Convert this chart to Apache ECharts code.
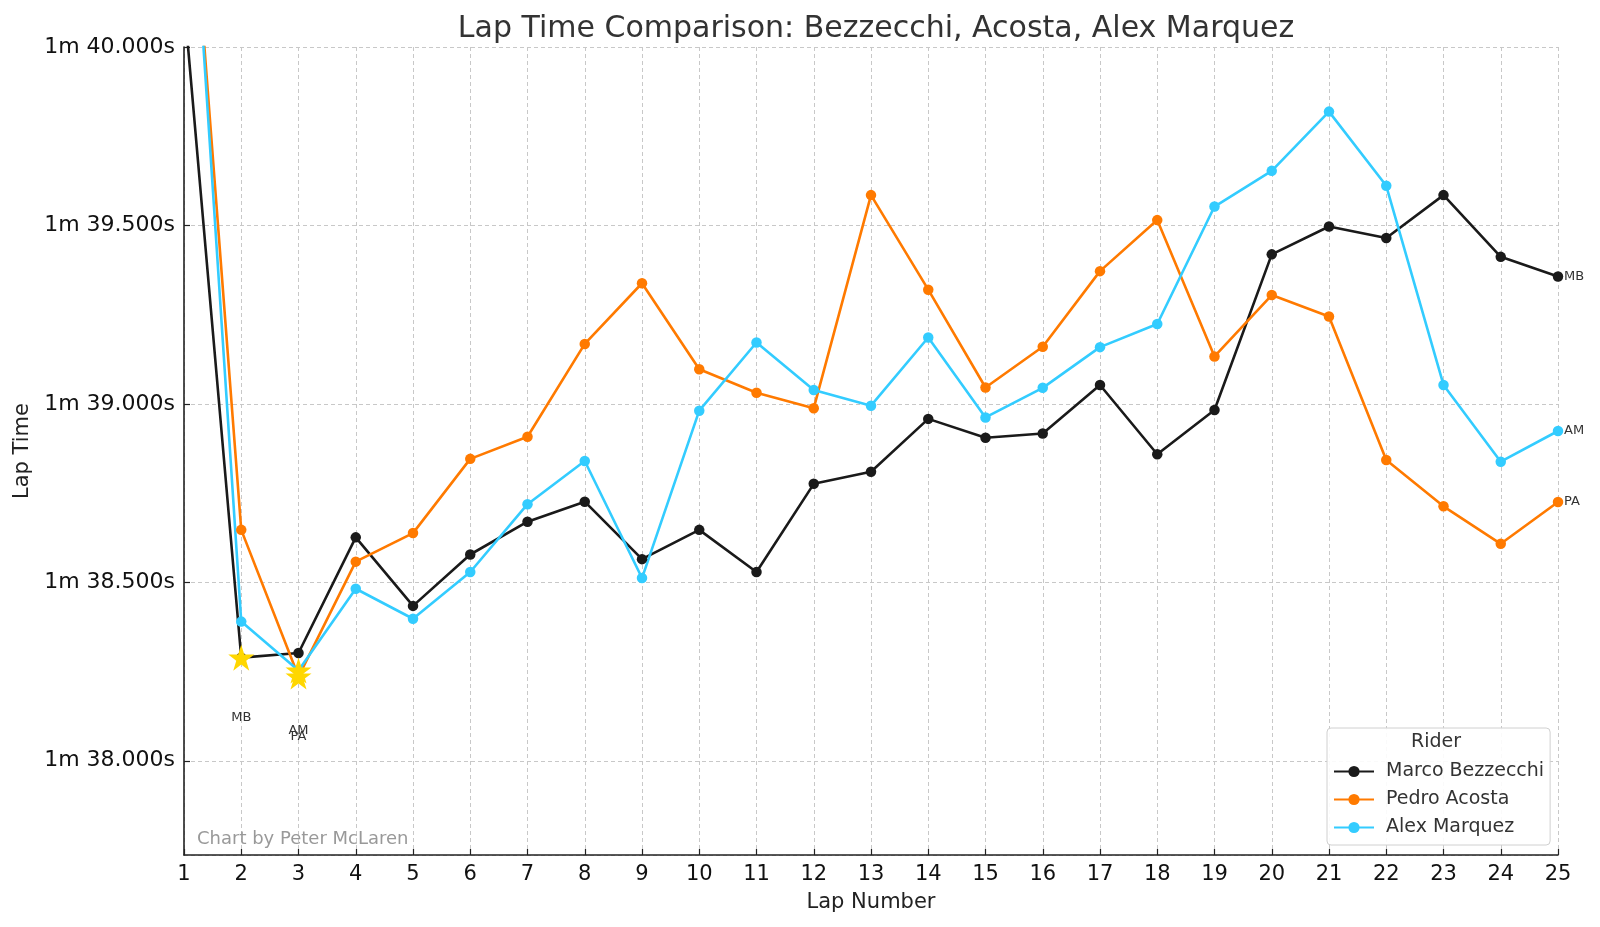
<!DOCTYPE html>
<html>
<head>
<meta charset="utf-8">
<script src="https://cdn.jsdelivr.net/npm/echarts@6/dist/echarts.min.js"></script>
<style>
html,body{margin:0;padding:0;background:#fff;}
#chart{width:1600px;height:927px;}
</style>
</head>
<body>
<div id="chart"></div>
<script>
// ---- data (lap times in seconds) ----
const laps = [1,2,3,4,5,6,7,8,9,10,11,12,13,14,15,16,17,18,19,20,21,22,23,24,25];
const bezzecchi = [100.13, 98.289, 98.302, 98.626, 98.434, 98.578, 98.670, 98.726, 98.565, 98.647, 98.529, 98.776, 98.810, 98.958, 98.905, 98.917, 99.053, 98.859, 98.983, 99.419, 99.497, 99.465, 99.585, 99.412, 99.357];
const acosta    = [100.75, 98.647, 98.236, 98.558, 98.638, 98.846, 98.908, 99.168, 99.338, 99.097, 99.031, 98.988, 99.585, 99.320, 99.046, 99.160, 99.372, 99.515, 99.133, 99.305, 99.245, 98.843, 98.713, 98.608, 98.725];
const marquez   = [100.83, 98.390, 98.253, 98.482, 98.398, 98.529, 98.719, 98.840, 98.512, 98.981, 99.172, 99.039, 98.995, 99.186, 98.962, 99.045, 99.159, 99.224, 99.553, 99.653, 99.819, 99.611, 99.053, 98.838, 98.924];
const riders = ['Marco Bezzecchi', 'Pedro Acosta', 'Alex Marquez'];
const initials = ['MB', 'PA', 'AM'];
const colors = ['#1a1a1a', '#ff7a00', '#33ccff'];
const yMin = 97.736;
const yMax = 100.0;

const seriesData = [bezzecchi, acosta, marquez];

function fmt(v){
  const m = Math.floor(v/60);
  const s = v - m*60;
  return m + 'm ' + s.toFixed(3) + 's';
}

const series = [];
seriesData.forEach((arr, i) => {
  series.push({
    name: riders[i],
    type: 'line',
    data: laps.map((l, k) => [l, arr[k]]),
    symbol: 'circle',
    symbolSize: 10.5,
    showAllSymbol: true,
    lineStyle: {color: colors[i], width: 2.6},
    itemStyle: {color: colors[i]},
    clip: true,
    z: 3,
    endLabel: {
      show: true,
      formatter: initials[i],
      color: '#333',
      fontSize: 13,
      fontFamily: 'DejaVu Sans',
      distance: 6
    }
  });
});

// fastest lap stars
const starPath = 'path://M50,0 L61.2,34.5 L97.6,34.5 L68.2,55.9 L79.4,90.5 L50,69.1 L20.6,90.5 L31.8,55.9 L2.4,34.5 L38.8,34.5 Z';
const starData = seriesData.map((arr, i) => {
  let best = 0;
  arr.forEach((v, k) => { if (v < arr[best]) best = k; });
  return {value: [laps[best], arr[best]], name: initials[i]};
});
series.push({
  name: 'fastest',
  type: 'scatter',
  data: starData,
  symbol: starPath,
  symbolSize: 26,
  itemStyle: {color: '#ffd700', opacity: 1},
  z: 20,
  zlevel: 0,
  label: {
    show: true,
    position: 'inside',
    offset: [0, 60],
    formatter: p => p.name,
    color: '#333',
    fontSize: 13,
    fontFamily: 'DejaVu Sans'
  },
  tooltip: {show: false}
});

const chart = echarts.init(document.getElementById('chart'), null, {renderer: 'canvas'});
chart.setOption({
  animation: false,
  backgroundColor: '#fff',
  textStyle: {fontFamily: 'DejaVu Sans'},
  title: {
    text: 'Lap Time Comparison: Bezzecchi, Acosta, Alex Marquez',
    left: 871,
    textAlign: 'center',
    top: 9,
    textStyle: {fontSize: 30, fontWeight: 'normal', color: '#333', fontFamily: 'DejaVu Sans'}
  },
  grid: {left: 184, right: 42, top: 47, bottom: 72, containLabel: false},
  xAxis: {
    type: 'value',
    min: 1, max: 25, interval: 1,
    name: 'Lap Number',
    nameLocation: 'middle',
    nameGap: 37,
    nameTextStyle: {fontSize: 21, color: '#222', fontFamily: 'DejaVu Sans'},
    axisLine: {show: true, onZero: false, lineStyle: {color: '#222', width: 1.6}},
    axisTick: {show: true, inside: true, length: 6, lineStyle: {color: '#222', width: 1.2}},
    axisLabel: {fontSize: 21, color: '#111', margin: 9, fontFamily: 'DejaVu Sans'},
    splitLine: {show: true, lineStyle: {color: '#c8c8c8', type: [4, 3], width: 1}}
  },
  yAxis: {
    type: 'value',
    min: yMin, max: yMax,
    minInterval: 0.5, maxInterval: 0.5, splitNumber: 5,
    name: 'Lap Time',
    nameLocation: 'middle',
    nameGap: 148,
    nameRotate: 90,
    nameTextStyle: {fontSize: 21, color: '#222', fontFamily: 'DejaVu Sans'},
    axisLine: {show: true, onZero: false, lineStyle: {color: '#222', width: 1.6}},
    axisTick: {show: true, inside: true, length: 6, lineStyle: {color: '#222', width: 1.2}},
    axisLabel: {fontSize: 22, color: '#111', margin: 9, showMinLabel: false, formatter: fmt, fontFamily: 'DejaVu Sans'},
    splitLine: {show: true, lineStyle: {color: '#c8c8c8', type: [4, 3], width: 1}}
  },
  legend: {
    data: riders,
    orient: 'vertical',
    left: 1327,
    top: 728,
    padding: [34, 6, 8, 6],
    itemWidth: 40,
    itemHeight: 14,
    itemGap: 9,
    backgroundColor: 'rgba(255,255,255,0.9)',
    borderColor: '#d0d0d0',
    borderWidth: 1,
    borderRadius: 4,
    textStyle: {fontSize: 19, color: '#333', fontFamily: 'DejaVu Sans', padding: [0, 0, 0, 7]}
  },
  graphic: [
    {
      type: 'text',
      left: 1438 - 27,
      top: 733,
      z: 100,
      style: {text: 'Rider', fontSize: 19, fill: '#333', fontFamily: 'DejaVu Sans'}
    },
    {
      type: 'text',
      left: 197,
      top: 830,
      z: 100,
      style: {text: 'Chart by Peter McLaren', fontSize: 18, fill: '#999', fontFamily: 'DejaVu Sans'}
    }
  ],
  series: series
});
</script>
</body>
</html>
